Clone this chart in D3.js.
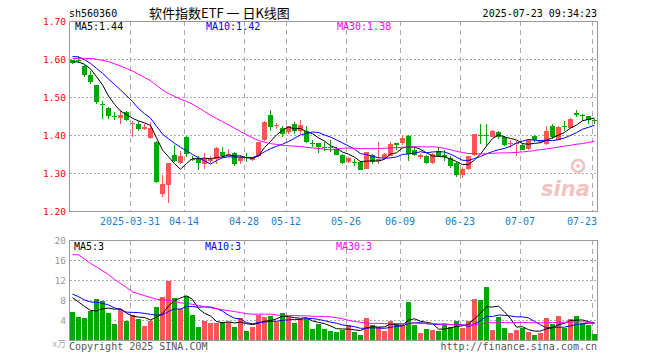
<!DOCTYPE html>
<html>
<head>
<meta charset="utf-8">
<script src="https://cdn.jsdelivr.net/npm/d3@7"></script>
<style>
  body { margin: 0; background: #fff; }
  text { font-family: "DejaVu Sans Mono", monospace; }
</style>
</head>
<body>
<svg id="chart" width="660" height="360"></svg>
<script>
// trading days shown
const dates = [
  "2025-03-17","2025-03-18","2025-03-19","2025-03-20","2025-03-21","2025-03-24","2025-03-25","2025-03-26","2025-03-27","2025-03-28",
  "2025-03-31","2025-04-01","2025-04-02","2025-04-03","2025-04-07","2025-04-08","2025-04-09","2025-04-10","2025-04-11","2025-04-14",
  "2025-04-15","2025-04-16","2025-04-17","2025-04-18","2025-04-21","2025-04-22","2025-04-23","2025-04-24","2025-04-25","2025-04-28",
  "2025-04-29","2025-04-30","2025-05-06","2025-05-07","2025-05-08","2025-05-09","2025-05-12","2025-05-13","2025-05-14","2025-05-15",
  "2025-05-16","2025-05-19","2025-05-20","2025-05-21","2025-05-22","2025-05-23","2025-05-26","2025-05-27","2025-05-28","2025-05-29",
  "2025-05-30","2025-06-03","2025-06-04","2025-06-05","2025-06-06","2025-06-09","2025-06-10","2025-06-11","2025-06-12","2025-06-13",
  "2025-06-16","2025-06-17","2025-06-18","2025-06-19","2025-06-20","2025-06-23","2025-06-24","2025-06-25","2025-06-26","2025-06-27",
  "2025-06-30","2025-07-01","2025-07-02","2025-07-03","2025-07-04","2025-07-07","2025-07-08","2025-07-09","2025-07-10","2025-07-11",
  "2025-07-14","2025-07-15","2025-07-16","2025-07-17","2025-07-18","2025-07-21","2025-07-22","2025-07-23"
];
const opens = [
  1.598,1.599,1.583,1.558,1.532,1.484,1.473,1.451,1.446,1.463,
  1.431,1.431,1.417,1.394,1.384,1.245,1.271,1.350,1.328,1.396,
  1.338,1.339,1.325,1.333,1.339,1.356,1.351,1.354,1.332,1.344,
  1.336,1.347,1.387,1.453,1.425,1.420,1.409,1.429,1.411,1.413,
  1.381,1.380,1.370,1.370,1.365,1.350,1.330,1.331,1.330,1.312,
  1.350,1.332,1.341,1.347,1.380,1.380,1.400,1.363,1.343,1.345,
  1.327,1.358,1.349,1.341,1.327,1.295,1.311,1.350,1.401,1.401,
  1.397,1.409,1.396,1.377,1.377,1.376,1.365,1.400,1.382,1.378,
  1.426,1.389,1.425,1.420,1.460,1.453,1.451,1.441
];
const highs = [
  1.600,1.610,1.585,1.569,1.533,1.490,1.476,1.461,1.468,1.464,
  1.437,1.438,1.429,1.435,1.385,1.297,1.327,1.375,1.358,1.400,
  1.345,1.347,1.353,1.345,1.369,1.369,1.365,1.357,1.350,1.353,
  1.343,1.383,1.438,1.468,1.432,1.426,1.426,1.435,1.442,1.426,
  1.387,1.381,1.382,1.387,1.369,1.352,1.343,1.337,1.332,1.356,
  1.352,1.382,1.354,1.382,1.381,1.400,1.401,1.369,1.352,1.348,
  1.354,1.369,1.361,1.347,1.329,1.317,1.347,1.403,1.429,1.429,
  1.414,1.412,1.398,1.389,1.385,1.380,1.392,1.402,1.388,1.426,
  1.429,1.424,1.438,1.446,1.468,1.457,1.451,1.444
];
const lows = [
  1.588,1.590,1.555,1.536,1.482,1.444,1.444,1.442,1.431,1.438,
  1.396,1.411,1.415,1.392,1.275,1.238,1.222,1.330,1.325,1.343,
  1.333,1.308,1.312,1.327,1.325,1.341,1.343,1.321,1.325,1.330,
  1.334,1.343,1.385,1.413,1.417,1.397,1.405,1.404,1.404,1.380,
  1.371,1.354,1.358,1.356,1.349,1.326,1.328,1.321,1.308,1.312,
  1.326,1.325,1.338,1.345,1.362,1.374,1.334,1.345,1.338,1.325,
  1.325,1.343,1.334,1.315,1.292,1.289,1.308,1.347,1.378,1.373,
  1.395,1.391,1.373,1.368,1.347,1.361,1.362,1.383,1.380,1.376,
  1.391,1.388,1.411,1.417,1.448,1.438,1.429,1.430
];
const closes = [
  1.590,1.597,1.560,1.540,1.488,1.481,1.451,1.449,1.453,1.441,
  1.433,1.416,1.423,1.420,1.277,1.273,1.327,1.332,1.347,1.352,
  1.337,1.327,1.339,1.339,1.367,1.347,1.352,1.325,1.341,1.342,
  1.341,1.382,1.435,1.422,1.427,1.403,1.424,1.411,1.428,1.382,
  1.379,1.369,1.368,1.368,1.350,1.327,1.341,1.329,1.310,1.356,
  1.330,1.339,1.352,1.378,1.374,1.394,1.352,1.350,1.348,1.328,
  1.352,1.347,1.343,1.321,1.295,1.312,1.347,1.403,1.399,1.399,
  1.411,1.397,1.375,1.379,1.379,1.363,1.389,1.387,1.386,1.413,
  1.396,1.422,1.423,1.444,1.453,1.452,1.440,1.440
];
// volume, in 万
const volumes = [
  5.8,4.8,4.5,6.0,8.4,8.0,5.5,3.4,6.4,4.0,
  5.2,4.4,3.0,3.9,6.8,8.8,12.0,8.6,6.3,9.0,
  5.2,2.7,4.0,3.6,3.6,3.8,3.7,2.8,4.5,2.0,
  2.8,5.2,4.8,5.0,3.8,5.6,4.8,3.6,4.4,4.4,
  2.4,3.3,2.4,2.0,1.7,2.1,3.2,1.7,1.2,4.6,
  3.2,2.7,1.9,4.0,3.6,3.2,7.7,3.2,1.6,2.4,
  2.2,2.0,3.2,2.8,4.0,2.6,3.9,8.4,8.2,10.8,
  2.2,4.8,2.6,1.6,2.2,2.6,1.8,1.2,1.6,4.6,
  3.4,5.0,2.6,4.4,5.0,3.6,3.2,1.4
];
// sessions before the window (estimated from where the MA lines start)
const earlierCloses = [
  1.57,1.56,1.55,1.56,1.56,1.55,1.62,1.64,1.63,1.63,
  1.67,1.68,1.67,1.65,1.63,1.61,1.57,1.55,1.54,1.55,
  1.61,1.63,1.64,1.62,1.61,1.60,1.59,1.60,1.59
];
const earlierVolumes = [
  4.8,30,32,31,30,28,33,30,29,31,
  16,14,15,17,13,15,14,16,12,11,
  10,11,10,9,10,9,9,10,9
];
const tickDates = ["2025-03-31","2025-04-14","2025-04-28","2025-05-12","2025-05-26","2025-06-09","2025-06-23","2025-07-07","2025-07-23"];
const tickLabels = ["2025-03-31","04-14","04-28","05-12","05-26","06-09","06-23","07-07","07-23"];
const priceTicks = [1.20, 1.30, 1.40, 1.50, 1.60, 1.70];
const volTicks = [4, 8, 12, 16, 20];
const maPeriods = [5, 10, 30];
const maColors = ["#000", "#0000ff", "#ff00ff"];
const priceMaLabels = ["MA5:1.44", "MA10:1.42", "MA30:1.38"];
const volMaLabels = ["MA5:3", "MA10:3", "MA30:3"];

const up = "#ff5555", down = "#00a800", grid = "#aaa", frame = "#999";
const left = 70, right = 598;
const priceTop = 21, priceBottom = 211, volTop = 240, volBottom = 340;

const svg = d3.select("#chart");

// x: one band per session, 6px step, 5px bar
const x = d3.scaleBand()
  .domain(dates)
  .range([left - 0.5, right - 0.5])
  .paddingInner(1 / 6)
  .paddingOuter(1 / 12);
const cx = d => x(d) + x.bandwidth() / 2;

const y = d3.scaleLinear().domain([1.20, 1.70]).range([priceBottom + 0.5, priceTop + 0.5]);
const yv = d3.scaleLinear().domain([0, 20]).range([volBottom + 0.5, volTop + 0.5]);

// moving averages, using the earlier sessions for the start
function movingAvg(earlier, values, n) {
  const all = earlier.concat(values);
  return values.map((v, i) => {
    const end = earlier.length + i;
    return d3.mean(all.slice(end - n + 1, end + 1));
  });
}

// ---- title row
svg.append("text").attr("x", 69).attr("y", 17).attr("font-size", 10).text("sh560360");
svg.append("text").attr("x", 149).attr("y", 18)
  .style("font-family", '"Noto Sans CJK SC", sans-serif').attr("font-size", 13)
  .text("软件指数ETF 一 日K线图");
svg.append("text").attr("x", 597).attr("y", 17).attr("font-size", 10)
  .attr("text-anchor", "end").text("2025-07-23 09:34:23");

// ---- grids
function drawGrid(top, bottom, hTicks, scale) {
  const g = svg.append("g").attr("shape-rendering", "crispEdges");
  g.selectAll(".h").data(hTicks).enter().append("line")
    .attr("x1", left).attr("x2", right)
    .attr("y1", d => scale(d)).attr("y2", d => scale(d))
    .attr("stroke", grid).attr("stroke-dasharray", "2,2");
  g.selectAll(".v").data(tickDates).enter().append("line")
    .attr("x1", d => x(d) + 0.5).attr("x2", d => x(d) + 0.5)
    .attr("y1", top).attr("y2", bottom)
    .attr("stroke", grid).attr("stroke-dasharray", "5,4");
}
drawGrid(priceTop, priceBottom, [1.30, 1.40, 1.50, 1.60], y);
drawGrid(volTop, volBottom, [4, 8, 12, 16], yv);

// watermark
const wm = svg.append("g").attr("fill", "#f3c3c3").attr("stroke", "none");
wm.append("text").attr("x", 541).attr("y", 196).attr("font-size", 21)
  .style("font-family", "DejaVu Sans").attr("font-weight", "bold").attr("font-style", "italic").text("sina");
wm.append("circle").attr("cx", 578).attr("cy", 166).attr("r", 6)
  .attr("fill", "none").attr("stroke", "#f3c3c3").attr("stroke-width", 2.5);
wm.append("circle").attr("cx", 578).attr("cy", 166).attr("r", 2);

// ---- candles
const rows = dates.map((d, i) => ({ d, o: opens[i], h: highs[i], l: lows[i], c: closes[i], v: volumes[i] }));
const candles = svg.append("g").attr("shape-rendering", "crispEdges");
candles.selectAll(".wick").data(rows).enter().append("line")
  .attr("x1", d => cx(d.d)).attr("x2", d => cx(d.d))
  .attr("y1", d => y(d.h)).attr("y2", d => y(d.l))
  .attr("stroke", d => d.c >= d.o ? up : down);
candles.selectAll(".body").data(rows).enter().append("rect")
  .attr("x", d => x(d.d)).attr("width", x.bandwidth())
  .attr("y", d => y(Math.max(d.o, d.c)))
  .attr("height", d => Math.max(1, y(Math.min(d.o, d.c)) - y(Math.max(d.o, d.c))))
  .attr("fill", d => d.c >= d.o ? up : down);

// ---- volume bars
svg.append("g").attr("shape-rendering", "crispEdges")
  .selectAll("rect").data(rows).enter().append("rect")
  .attr("x", d => x(d.d)).attr("width", x.bandwidth())
  .attr("y", d => yv(d.v)).attr("height", d => yv(0) - yv(d.v))
  .attr("fill", d => d.c >= d.o ? up : down);

// ---- MA lines
maPeriods.forEach((n, k) => {
  const pm = movingAvg(earlierCloses, closes, n);
  const vm = movingAvg(earlierVolumes, volumes, n);
  svg.append("path")
    .attr("d", d3.line().x((v, i) => cx(dates[i])).y(v => y(v))(pm))
    .attr("fill", "none").attr("stroke", maColors[k]).attr("stroke-width", 1);
  svg.append("path")
    .attr("d", d3.line().x((v, i) => cx(dates[i])).y(v => yv(v))(vm))
    .attr("fill", "none").attr("stroke", maColors[k]).attr("stroke-width", 1);
});

// ---- frames
svg.append("rect").attr("x", left - 0.5).attr("y", priceTop + 0.5)
  .attr("width", right - left).attr("height", priceBottom - priceTop)
  .attr("fill", "none").attr("stroke", frame);
svg.append("rect").attr("x", left - 0.5).attr("y", volTop + 0.5)
  .attr("width", right - left).attr("height", volBottom - volTop)
  .attr("fill", "none").attr("stroke", frame);

// ---- axes labels
svg.append("g").selectAll("text").data(priceTicks).enter().append("text")
  .attr("x", 66).attr("y", d => y(d)).attr("dy", "0.35em")
  .attr("text-anchor", "end").attr("font-size", 9.5).attr("fill", "#f00")
  .text(d => d3.format(".2f")(d));
svg.append("g").selectAll("text").data(volTicks).enter().append("text")
  .attr("x", 66).attr("y", d => yv(d)).attr("dy", "0.35em")
  .attr("text-anchor", "end").attr("font-size", 9.5).attr("fill", "#999")
  .text(d => d);
svg.append("text").attr("x", 66).attr("y", 347).attr("text-anchor", "end")
  .attr("font-size", 9).attr("fill", "#aaa")
  .style("font-family", '"Noto Sans CJK SC", sans-serif').text("x万");

svg.append("g").selectAll("text").data(tickDates).enter().append("text")
  .attr("x", (d, i) => i === tickDates.length - 1 ? right - 1 : x(d))
  .attr("y", 225).attr("font-size", 10).attr("fill", "#1a7fd0")
  .attr("text-anchor", (d, i) => i === tickDates.length - 1 ? "end" : "middle")
  .text((d, i) => tickLabels[i]);

// ---- MA legends
const legendX = [75, 206, 337];
priceMaLabels.forEach((t, k) => {
  svg.append("text").attr("x", legendX[k]).attr("y", 30).attr("font-size", 10)
    .attr("fill", maColors[k]).text(t);
});
volMaLabels.forEach((t, k) => {
  svg.append("text").attr("x", legendX[k] - 1).attr("y", 250).attr("font-size", 10)
    .attr("fill", maColors[k]).text(t);
});

// ---- footer
svg.append("text").attr("x", 69).attr("y", 350).attr("font-size", 10).attr("fill", "#555")
  .text("Copyright 2025 SINA.COM");
svg.append("text").attr("x", 597).attr("y", 350).attr("font-size", 10).attr("fill", "#555")
  .attr("text-anchor", "end").text("http://finance.sina.com.cn");
</script>
</body>
</html>
